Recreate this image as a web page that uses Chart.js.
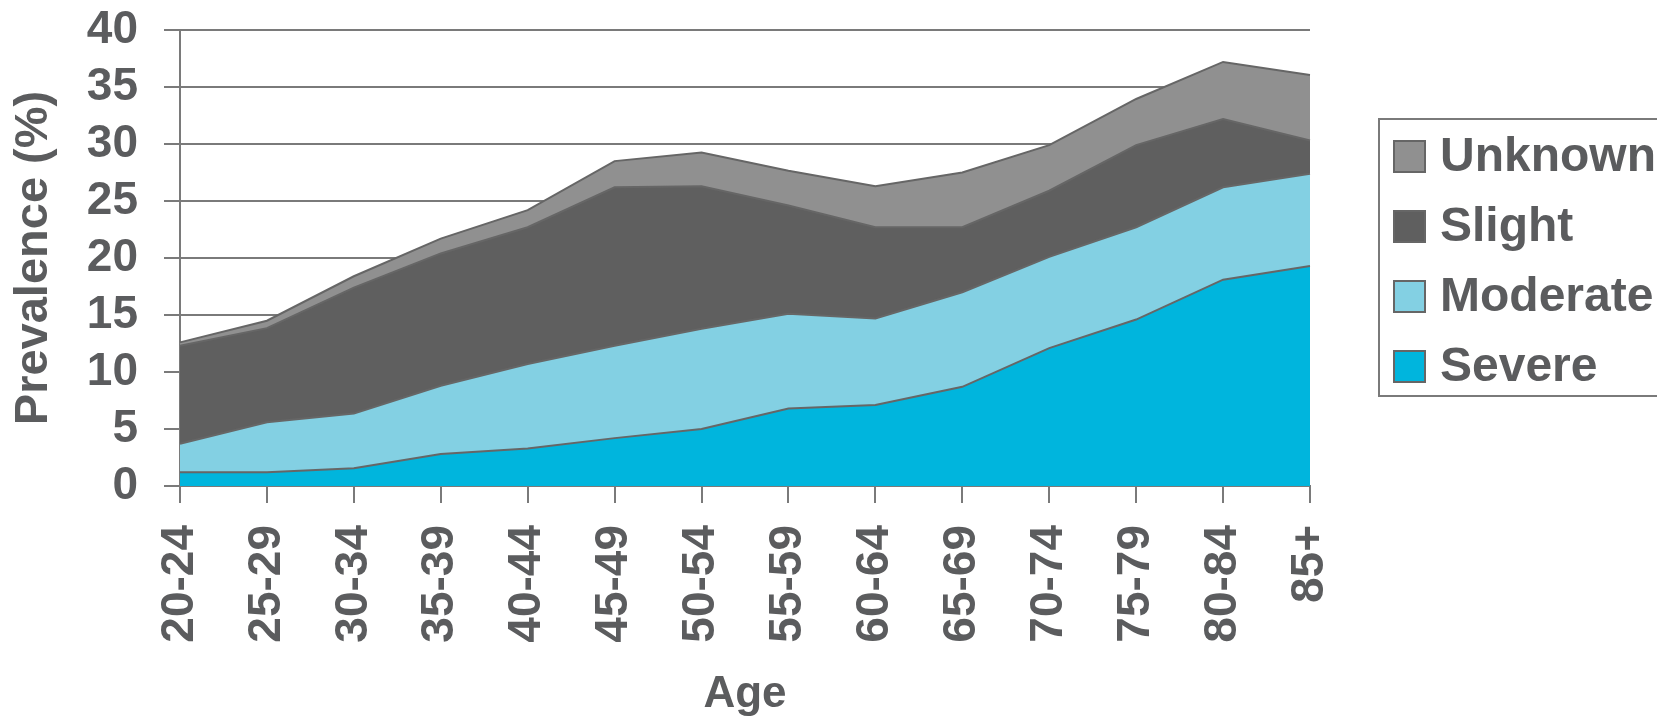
<!DOCTYPE html>
<html>
<head>
<meta charset="utf-8">
<script src="https://cdn.jsdelivr.net/npm/chart.js@4.4.1/dist/chart.umd.min.js"></script>
<style>
  html, body { margin: 0; padding: 0; background: #fff; }
  #wrap { width: 1657px; height: 721px; position: relative; }
</style>
</head>
<body>
<div id="wrap"><canvas id="grafico"></canvas></div>
<script>
// dados
var faixas = ["20-24", "25-29", "30-34", "35-39", "40-44", "45-49", "50-54", "55-59", "60-64", "65-69", "70-74", "75-79", "80-84", "85+"];
var severe   = [1.2, 1.2, 1.55, 2.8, 3.3, 4.2, 5.0, 6.8, 7.1, 8.7, 12.1, 14.6, 18.1, 19.3];
var moderate = [2.5, 4.4, 4.8, 6.0, 7.4, 8.1, 8.8, 8.3, 7.6, 8.3, 8.0, 8.1, 8.1, 8.1];
var slight   = [8.6, 8.25, 11.05, 11.6, 12.0, 13.9, 12.5, 9.5, 8.0, 5.7, 5.8, 7.2, 6.0, 2.9];
var unknown  = [0.3, 0.65, 1.0, 1.3, 1.5, 2.3, 2.95, 3.05, 3.6, 4.8, 4.0, 4.05, 5.0, 5.75];
var ticksY = [0, 5, 10, 15, 20, 25, 30, 35, 40];

var corTexto = "#5b5c5e";
var corLinha = "#7a7a7a";
var fonte = "'Liberation Sans', Arial, sans-serif";

function serie(nome, valores, cor, fill) {
    return {
        label: nome,
        data: valores,
        backgroundColor: cor,
        borderColor: "#666666",
        borderWidth: 2,
        pointRadius: 0,
        tension: 0,
        fill: fill
    };
}

// legenda desenhada à mão, com caixa
var legendaCaixa = {
    id: "legendaCaixa",
    afterDraw: function(chart) {
        var c = chart.ctx;
        c.save();
        c.strokeStyle = corLinha;
        c.lineWidth = 2;
        c.strokeRect(1379, 119, 400, 277);
        var ds = chart.data.datasets.slice().reverse();
        c.font = "bold 48px " + fonte;
        c.textBaseline = "middle";
        c.textAlign = "left";
        for (var i = 0; i < ds.length; i++) {
            var y = 141 + i * 70;
            c.fillStyle = ds[i].backgroundColor;
            c.fillRect(1394, y, 31, 31);
            c.strokeStyle = "#666666";
            c.lineWidth = 2;
            c.strokeRect(1394, y, 31, 31);
            c.fillStyle = corTexto;
            c.fillText(ds[i].label, 1440, y + 17);
        }
        c.restore();
    }
};

var ctx = document.getElementById("grafico").getContext("2d");
var grafico = new Chart(ctx, {
    type: "line",
    data: {
        labels: faixas,
        datasets: [
            serie("Severe", severe, "#00b5dd", "origin"),
            serie("Moderate", moderate, "#83d0e3", "-1"),
            serie("Slight", slight, "#5f5f5f", "-1"),
            serie("Unknown", unknown, "#909090", "-1")
        ]
    },
    options: {
        responsive: true,
        maintainAspectRatio: false,
        animation: false,
        layout: { padding: { top: 30, right: 347, left: 0, bottom: 0 } },
        plugins: {
            legend: { display: false },
            tooltip: { enabled: false }
        },
        scales: {
            x: {
                grid: { drawOnChartArea: false, color: corLinha, lineWidth: 2, tickLength: 17 },
                border: { color: corLinha, width: 2 },
                ticks: {
                    autoSkip: false, minRotation: 90, maxRotation: 90, padding: 22,
                    color: corTexto, font: { family: fonte, size: 46, weight: "bold" }
                },
                title: {
                    display: true, text: "Age", color: corTexto,
                    font: { family: fonte, size: 44, weight: "bold" },
                    padding: { top: 0, bottom: 0 }
                },
                afterFit: function(scale) {
                    scale.height = 235;
                    scale.paddingLeft = 0;
                    scale.paddingRight = 0;
                }
            },
            y: {
                stacked: true,
                min: 0,
                max: 40,
                afterBuildTicks: function(scale) {
                    scale.ticks = ticksY.map(function(v) { return { value: v }; });
                },
                grid: { color: corLinha, lineWidth: 2, tickLength: 16 },
                border: { color: corLinha, width: 2 },
                ticks: {
                    autoSkip: false, padding: 26, color: corTexto,
                    font: { family: fonte, size: 46, weight: "bold" }
                },
                title: {
                    display: true, text: "Prevalence (%)", color: corTexto,
                    font: { family: fonte, size: 47, weight: "bold" },
                    padding: { top: 6, bottom: 0 }
                },
                afterFit: function(scale) {
                    scale.width = 180;
                    scale.paddingTop = 0;
                    scale.paddingBottom = 0;
                }
            }
        }
    },
    plugins: [legendaCaixa]
});
</script>
</body>
</html>
